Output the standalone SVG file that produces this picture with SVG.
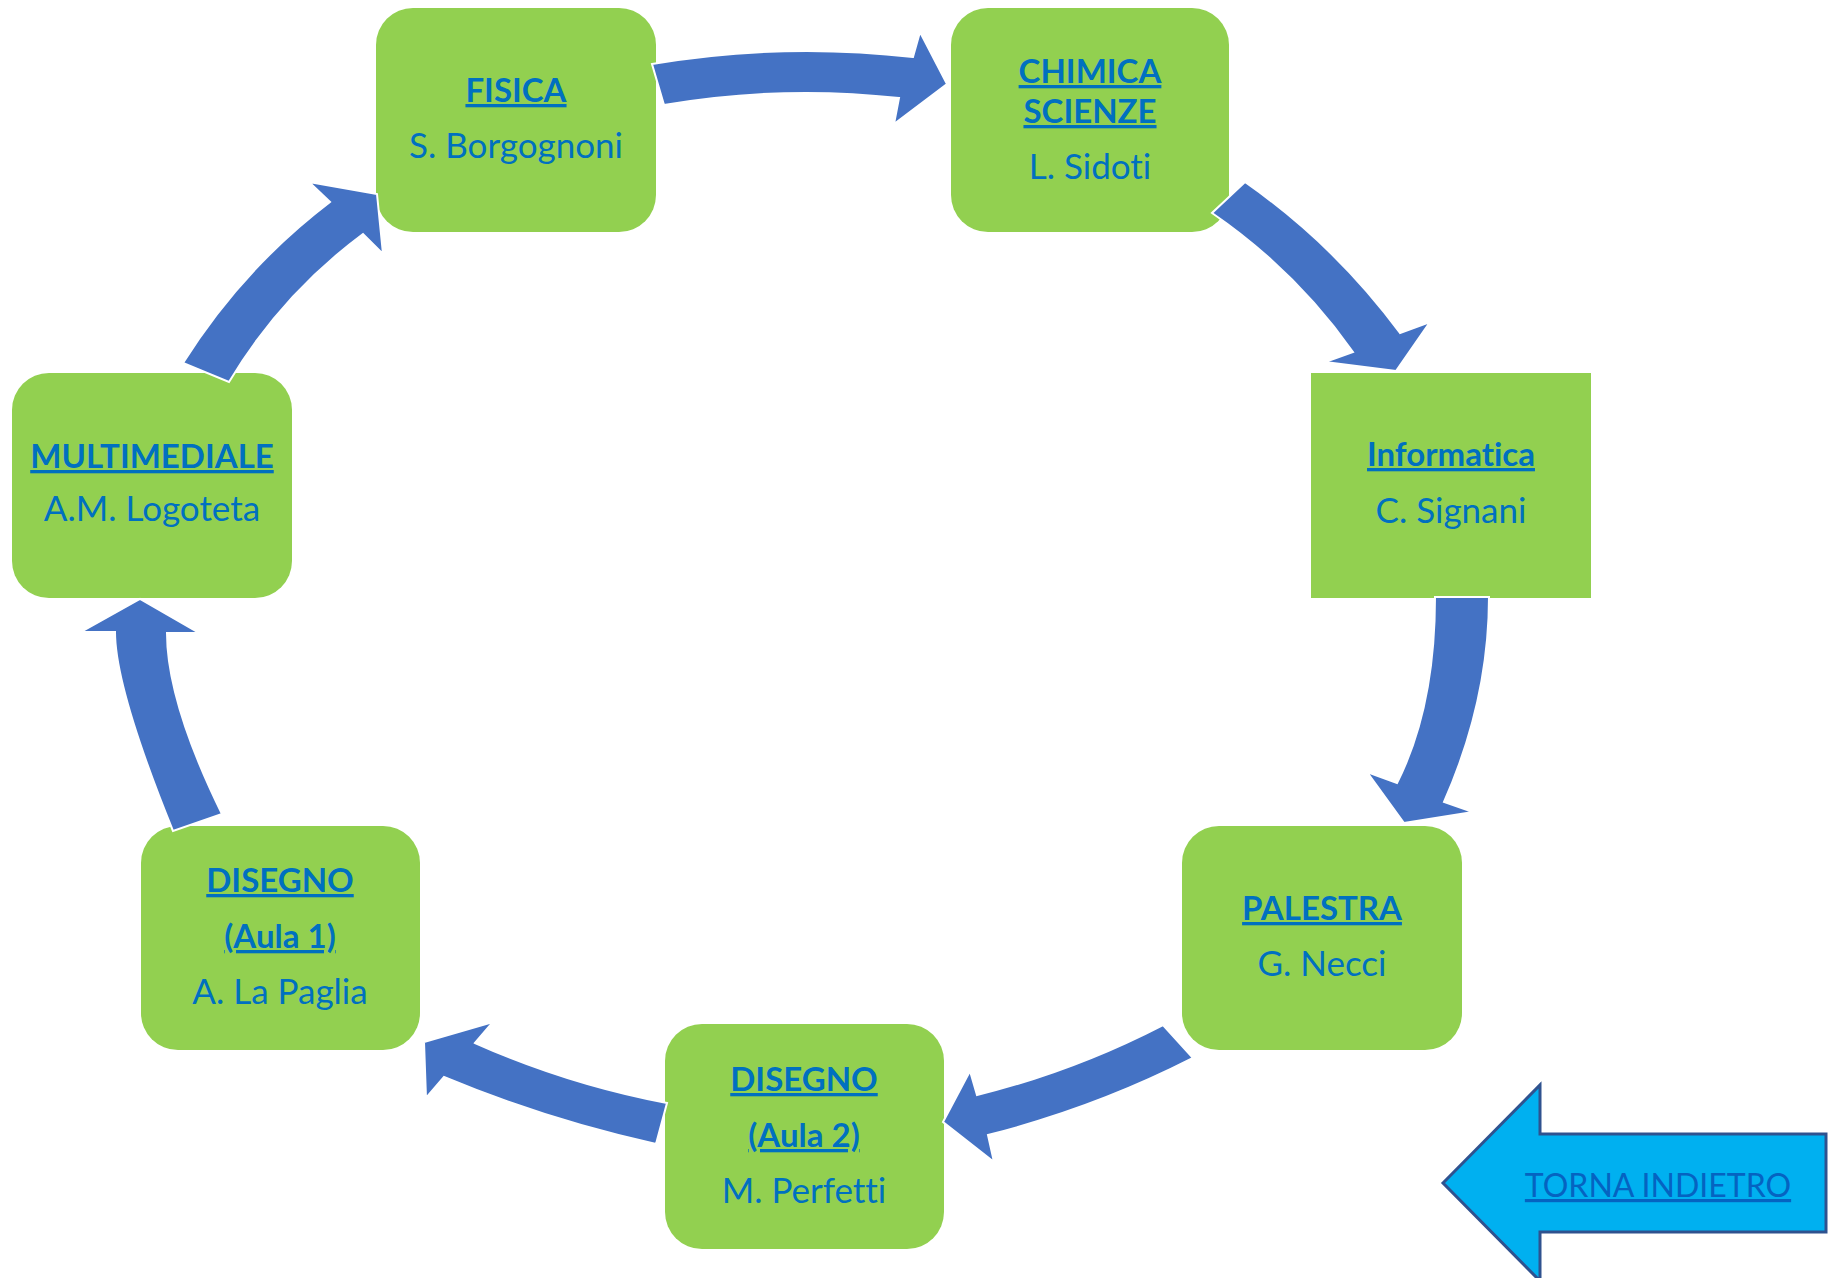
<svg xmlns="http://www.w3.org/2000/svg" width="1837" height="1278" viewBox="0 0 1837 1278">
<style>
.box{fill:#92D050}
.t{font-family:Lato,"Liberation Sans",sans-serif;font-size:35px;fill:#0070C0;text-anchor:middle;font-variant-ligatures:none}
.b{font-weight:bold;font-size:33px;text-decoration:underline}
.arrow{fill:#4472C4;stroke:#FFFFFF;stroke-width:2}
.back{fill:#00B0F0;stroke:#2F528F;stroke-width:3}
.link{font-family:Lato,"Liberation Sans",sans-serif;font-size:32px;fill:#0563C1;text-anchor:middle;text-decoration:underline;font-variant-ligatures:none}
</style>
<rect width="1837" height="1278" fill="#FFFFFF"/>
<g id="node-fisica">
<rect class="box" x="376" y="8" width="280" height="224" rx="37" ry="37"/>
<text class="t b" x="516" y="102">FISICA</text>
<text class="t" x="516" y="158">S. Borgognoni</text>
</g>
<g id="node-chimica">
<rect class="box" x="951" y="8" width="278" height="224" rx="37" ry="37"/>
<text class="t b" x="1090" y="83">CHIMICA</text>
<text class="t b" x="1090" y="123">SCIENZE</text>
<text class="t" x="1090" y="179">L. Sidoti</text>
</g>
<g id="node-informatica">
<rect class="box" x="1311" y="373" width="280" height="225"/>
<text class="t b" x="1451" y="466">Informatica</text>
<text class="t" x="1451" y="523">C. Signani</text>
</g>
<g id="node-palestra">
<rect class="box" x="1182" y="826" width="280" height="224" rx="37" ry="37"/>
<text class="t b" x="1322" y="920">PALESTRA</text>
<text class="t" x="1322" y="976">G. Necci</text>
</g>
<g id="node-disegno2">
<rect class="box" x="665" y="1024" width="279" height="225" rx="37" ry="37"/>
<text class="t b" x="804" y="1091">DISEGNO</text>
<text class="t b" x="804" y="1147">(Aula 2)</text>
<text class="t" x="804" y="1203">M. Perfetti</text>
</g>
<g id="node-disegno1">
<rect class="box" x="141" y="826" width="279" height="224" rx="37" ry="37"/>
<text class="t b" x="280" y="892">DISEGNO</text>
<text class="t b" x="280" y="948">(Aula 1)</text>
<text class="t" x="280" y="1004">A. La Paglia</text>
</g>
<g id="node-multimediale">
<rect class="box" x="12" y="373" width="280" height="225" rx="37" ry="37"/>
<text class="t b" x="152" y="468">MULTIMEDIALE</text>
<text class="t" x="152" y="521">A.M. Logoteta</text>
</g>
<g id="connectors">
<path class="arrow" d="M652,64 Q782,42 913,57 L920,32 L947,84 L894,124 L899,98 Q781,85 664,105 Z"/>
<path class="arrow" d="M1245,182 Q1335,245 1400,333 L1430,322 L1396,371 L1325,362 L1353,352 Q1295,270 1212,213 Z"/>
<path class="arrow" d="M1489,597 Q1489,700 1444,802 L1473,812 L1404,823 L1367,772 L1397,783 Q1435,708 1435,597 Z"/>
<path class="arrow" d="M1163,1025 Q1074,1071 977,1095 L970,1071 L943,1122 L994,1162 L988,1135 Q1095,1108 1193,1058 Z"/>
<path class="arrow" d="M667,1103 Q567,1084 475,1043 L493,1022 L424,1042 L426,1098 L444,1077 Q547,1120 656,1144 Z"/>
<path class="arrow" d="M173,831 Q115,688 115,632 L81,632 L140,599 L199,633 L167,633 Q167,702 222,814 Z"/>
<path class="arrow" d="M183,363 Q242,269 330,202 L309,182 L377,194 L383,254 L363,234 Q281,295 229,382 Z"/>
</g>
<g id="node-torna-indietro">
<polygon class="back" points="1443,1183 1540,1085 1540,1134 1826,1134 1826,1232 1540,1232 1540,1281"/>
<text class="link" x="1658" y="1197">TORNA INDIETRO</text>
</g>
</svg>
